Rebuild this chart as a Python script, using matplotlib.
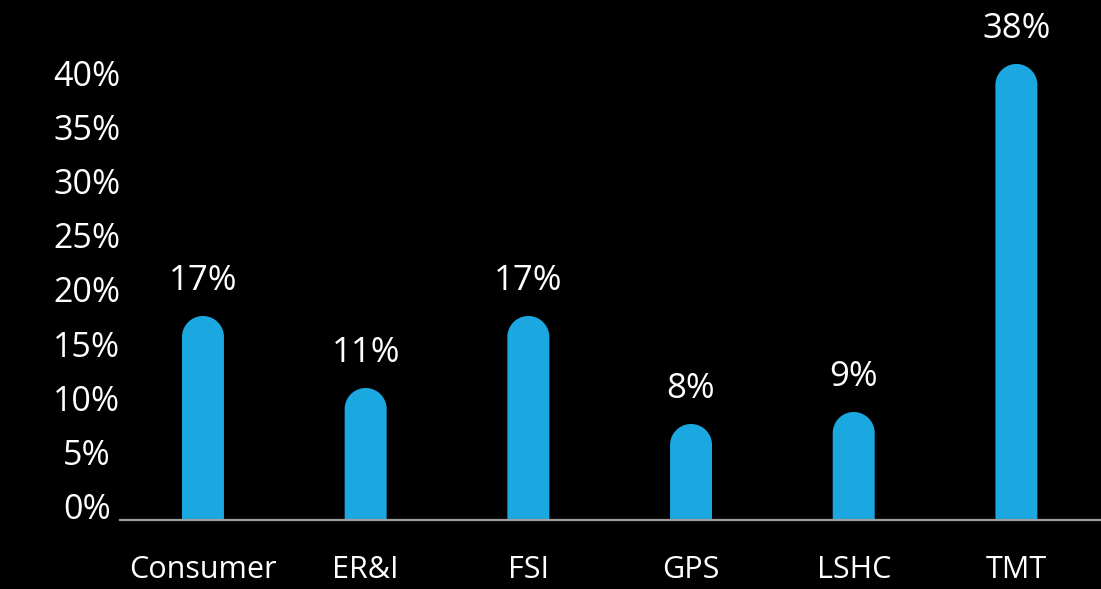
import numpy as np
import matplotlib
matplotlib.use("Agg")
import matplotlib.pyplot as plt
from matplotlib.patches import Polygon

# Data
categories = ["Consumer", "ER&I", "FSI", "GPS", "LSHC", "TMT"]
values = [17, 11, 17, 8, 9, 38]
tick_values = [0, 5, 10, 15, 20, 25, 30, 35, 40]

BAR_COLOR = "#1BA8E0"
AXIS_COLOR = "#9E9E9E"
plt.rcParams["font.family"] = ["Open Sans", "DejaVu Sans"]

DPI = 100
fig = plt.figure(figsize=(11.01, 5.89), dpi=DPI, facecolor="black")
ax = fig.add_axes([120 / 1101, 69 / 589, 981 / 1101, 520 / 589])
ax.set_facecolor("black")

px_per_unit = 12.0
ax.set_ylim(0, 520 / px_per_unit)
ax.set_xlim(-0.51, 5.52)

x = np.arange(len(categories))
bar_w = 0.258
r_y = 21 / px_per_unit  # cap radius in data units (y)
theta = np.linspace(np.pi, 0, 60)

# bars with a half-round cap on top, drawn as one outline each
for xi, v in zip(x, values):
    cap_x = xi + bar_w / 2 * np.cos(theta)
    cap_y = v - r_y + r_y * np.sin(theta)
    xs = np.concatenate([[xi - bar_w / 2], cap_x, [xi + bar_w / 2]])
    ys = np.concatenate([[0], cap_y, [0]])
    ax.add_patch(Polygon(np.column_stack([xs, ys]), closed=True,
                         fc=BAR_COLOR, ec="none", zorder=2))
    ax.annotate(f"{v}%", (xi, v), xytext=(0, 25), textcoords="offset points",
                ha="center", va="center", color="white", fontsize=25)

for s in ["top", "right", "left"]:
    ax.spines[s].set_visible(False)
ax.spines["bottom"].set_color(AXIS_COLOR)
ax.spines["bottom"].set_linewidth(1.6)
ax.spines["bottom"].set_zorder(3)

ax.set_xticks(x)
ax.set_xticklabels(categories, color="white", fontsize=22)
ax.tick_params(axis="x", length=0, pad=25)
ax.set_yticks([])

# percentage scale on the left
ax2 = ax.twinx()
ax2.set_ylim(-10 / 10.83, 510 / 10.83)
ax2.yaxis.set_ticks_position("left")
ax2.set_yticks(tick_values)
ax2.set_yticklabels([f"{t}%" for t in tick_values], color="white", fontsize=24.5,
                    ha="center", va="center")
ax2.tick_params(axis="y", length=0, pad=24)
for s in ax2.spines.values():
    s.set_visible(False)
ax2.patch.set_visible(False)

fig.savefig("out.png", dpi=DPI, facecolor="black")
